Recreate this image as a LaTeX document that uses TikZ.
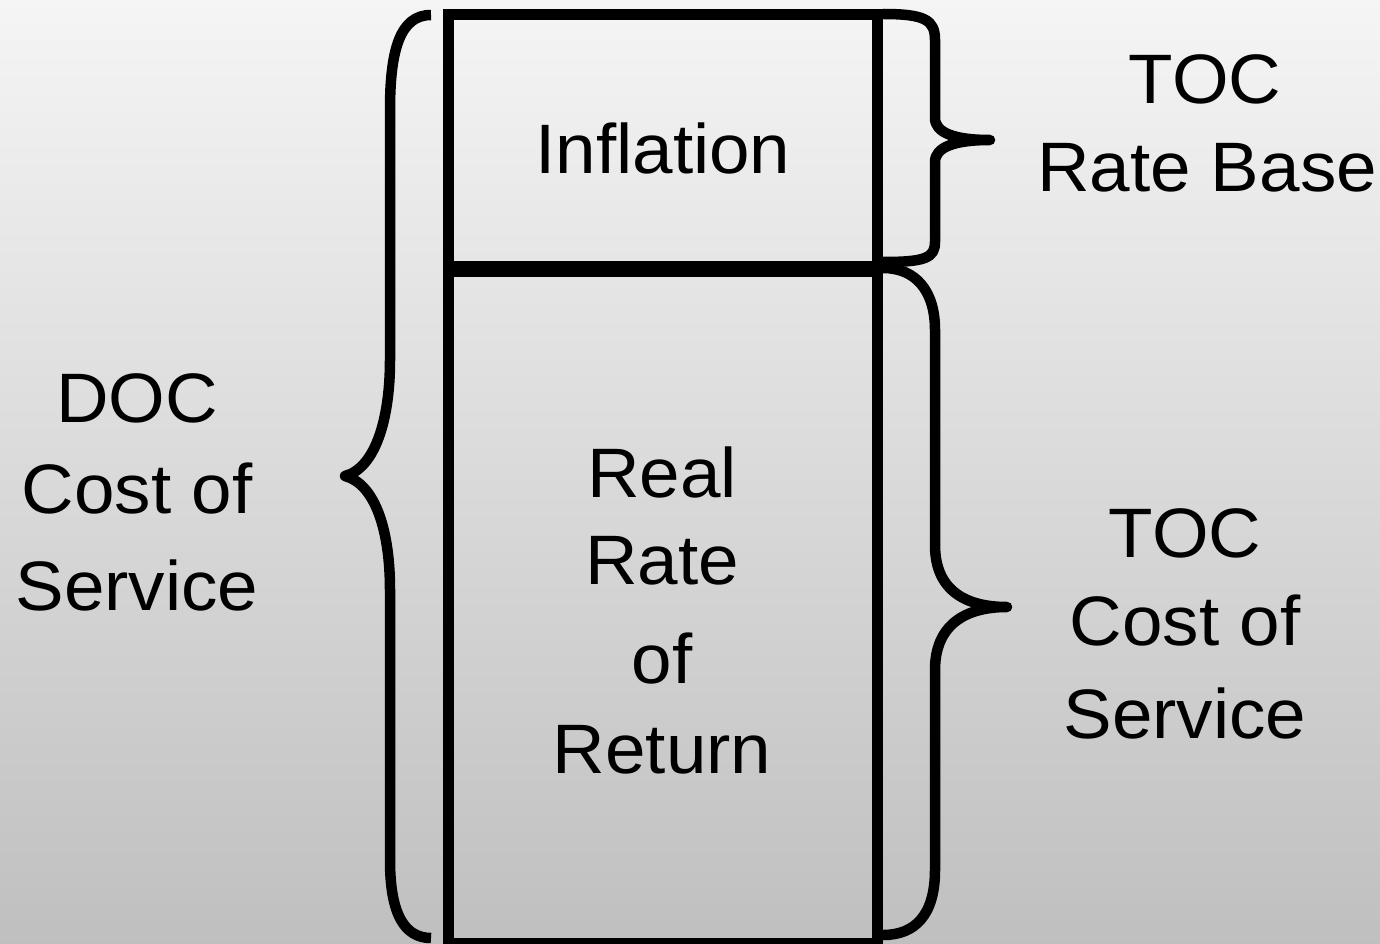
\documentclass[tikz,border=0pt]{standalone}
\usepackage{fontspec}
\setmainfont{Liberation Sans}[FakeStretch=1.04]
\begin{document}
\begin{tikzpicture}[x=1pt,y=-1pt,
  lbl/.style={anchor=base,inner sep=0pt,font=\fontsize{70}{84}\selectfont,text=black},
  boxline/.style={line width=11pt,draw=black},
  brace/.style={line width=10.5pt,draw=black,line join=round,line cap=butt}]
\useasboundingbox (0,0) rectangle (1380,944);
\shade[top color=gray!8!white,bottom color=black!25] (0,0) rectangle (1380,944);
% box
\coordinate (tl) at (448,14.5);
\coordinate (br) at (877,943);
\draw[boxline] (tl) rectangle (br);
\coordinate (dl) at (448,269);
\coordinate (dr) at (877,269);
\draw[line width=16pt] (dl) -- (dr);
% left brace
\draw[brace] (431,15) .. controls (400,15) and (390,50) .. (390,110) -- (390,360)
  .. controls (390,420) and (375,468) .. (345,476)
  .. controls (375,484) and (390,530) .. (390,590) -- (390,860)
  .. controls (390,915) and (405,938) .. (431,938);
% top right brace
\draw[brace] (883,14) .. controls (925,14) and (935,20) .. (935,40) -- (935,118)
  .. controls (935,133) and (955,140) .. (990,140)
  .. controls (955,140) and (935,147) .. (935,162) -- (935,242)
  .. controls (935,258) and (925,262) .. (883,262);
% bottom right brace
\draw[brace] (883,268) .. controls (915,268) and (935,290) .. (935,330) -- (935,545)
  .. controls (935,590) and (965,607) .. (1007,607)
  .. controls (965,607) and (935,625) .. (935,670) -- (935,870)
  .. controls (935,915) and (915,935) .. (883,935);
% texts
\node[lbl] (infl) at (663,174) {Inflation};
\node[lbl] (rr1) at (662,497) {Real};
\node[lbl] (rr2) at (662,584) {Rate};
\node[lbl] (rr3) at (662,683) {of};
\node[lbl] (rr4) at (662,773) {Return};
\node[lbl] (doc1) at (137,422) {DOC};
\node[lbl] (doc2) at (137,513) {Cost of};
\node[lbl] (doc3) at (137,610) {Service};
\node[lbl] (trb1) at (1205,104) {TOC};
\node[lbl] (trb2) at (1207,192) {Rate Base};
\node[lbl] (tcs1) at (1185,557) {TOC};
\node[lbl] (tcs2) at (1185,645) {Cost of};
\node[lbl] (tcs3) at (1185,738) {Service};
\end{tikzpicture}
\end{document}
